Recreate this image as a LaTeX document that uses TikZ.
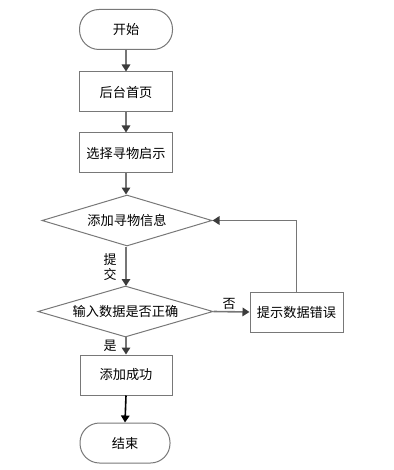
\documentclass[tikz,border=0pt]{standalone}
\usepackage{fontspec}
\setmainfont{Noto Sans CJK SC}
\usetikzlibrary{arrows.meta,shapes.geometric}
\definecolor{linec}{RGB}{118,118,118}
\definecolor{headc}{RGB}{60,60,60}
\definecolor{boxc}{RGB}{120,120,120}
\begin{document}
\begin{tikzpicture}[x=1pt,y=-1pt,
  every node/.style={font=\fontsize{13.2}{15}\selectfont},
  box/.style={draw=boxc,line width=1pt,fill=white,minimum width=93pt,minimum height=40pt,inner sep=0pt},
  term/.style={box,rounded corners=19.5pt},
  dia/.style={draw=boxc,line width=1pt,diamond,inner sep=0pt,aspect=3.3},
  arr/.style={draw=linec,line width=1.6pt,-{Triangle[length=7pt,width=8.5pt,fill=headc,color=headc]}},
  lab/.style={inner sep=0pt,font=\fontsize{13}{15}\selectfont}]
\useasboundingbox (0,0) rectangle (393,470);
\node[term] (start) at (126,29.5) {开始};
\node[box] (b1) at (126,92) {后台首页};
\node[box] (b2) at (126,153) {选择寻物启示};
\node[dia,minimum width=170pt,minimum height=51pt] (d1) at (127,220.5) {添加寻物信息};
\node[dia,minimum width=175pt,minimum height=51pt] (d2) at (125.5,311.5) {输入数据是否正确};
\node[box] (err) at (296.5,312) {提示数据错误};
\node[box,minimum width=92pt] (b3) at (126,375) {添加成功};
\node[term,minimum width=90pt] (end) at (125,443) {结束};
\draw[arr] (start.south) -- (b1.north);
\draw[arr] (b1.south) -- (b2.north);
\draw[arr] (b2.south) -- (b2.south |- d1.north);
\draw[arr] (d1.south -| 126,0) -- (126,286);
\draw[arr] (d2.east) -- (err.west);
\draw[arr] (err.north) |- (d1.east);
\draw[arr] (126,337) -- (b3.north);
\draw[arr,draw=black,-{Triangle[length=7pt,width=8.5pt,fill=black,color=black]}] (b3.south) -- (end.north);
\node[lab,align=center] (l1) at (110,267.5) {提\\交};
\node[lab] (l2) at (229,304) {否};
\node[lab] (l3) at (110,346) {是};
\end{tikzpicture}
\end{document}
